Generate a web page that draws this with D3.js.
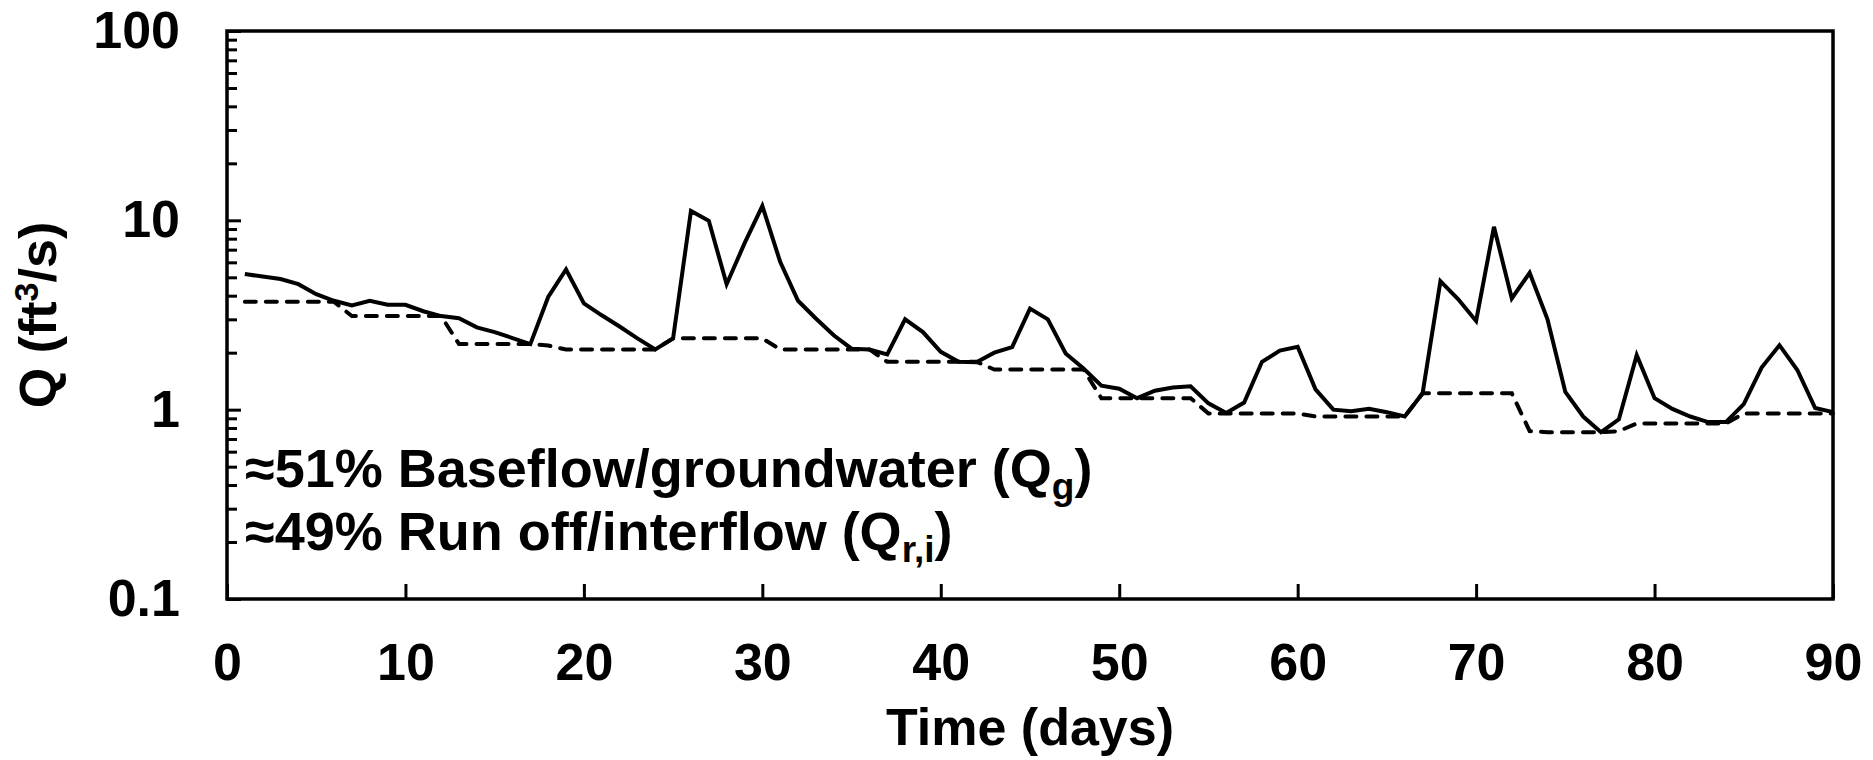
<!DOCTYPE html>
<html lang="en">
<head>
<meta charset="UTF-8">
<title>Q vs time</title>
<script src="https://d3js.org/d3.v7.min.js"></script>
<style>
  body { margin: 0; background: #fff; }
  text { font-family: "Liberation Sans", Arial, Helvetica, sans-serif; font-weight: bold; fill: #000; }
  .tick line { stroke: #000; stroke-width: 3px; }
  .tick text { font-size: 52px; }
</style>
</head>
<body>
<svg id="chart" width="1873" height="760"></svg>
<script>

// days 1..90
var days = d3.range(1, 91);

// total discharge Q (ft3/s)
var totalFlow = [5.2, 5.05, 4.9, 4.6, 4.07, 3.76, 3.55, 3.76, 3.58, 3.58,
  3.31, 3.12, 3.04, 2.72, 2.57, 2.39, 2.22, 3.94, 5.5, 3.64,
  3.15, 2.75, 2.38, 2.08, 2.38, 11.2, 9.94, 4.6, 7.55, 11.9,
  6.04, 3.76, 3.03, 2.47, 2.1, 2.08, 1.96, 3.0, 2.57, 2.02,
  1.79, 1.78, 2.0, 2.14, 3.42, 3.0, 1.98, 1.65, 1.34, 1.29,
  1.15, 1.26, 1.31, 1.33, 1.08, 0.96, 1.09, 1.79, 2.05, 2.15,
  1.28, 1.0, 0.98, 1.01, 0.97, 0.92, 1.22, 4.77, 3.83, 2.94,
  9.24, 3.87, 5.28, 3.0, 1.24, 0.92, 0.76, 0.89, 1.94, 1.15,
  1.01, 0.92, 0.86, 0.86, 1.07, 1.67, 2.19, 1.62, 1.02, 0.97];

// baseflow / groundwater (dashed), 6-day blocks
var baseFlow = [3.71, 3.71, 3.71, 3.71, 3.71, 3.71, 3.12, 3.12, 3.12, 3.12,
  3.12, 3.12, 2.22, 2.22, 2.22, 2.22, 2.22, 2.18, 2.08, 2.08,
  2.08, 2.08, 2.08, 2.08, 2.38, 2.38, 2.38, 2.38, 2.38, 2.38,
  2.08, 2.08, 2.08, 2.08, 2.08, 2.08, 1.79, 1.79, 1.79, 1.79,
  1.79, 1.79, 1.63, 1.63, 1.63, 1.63, 1.63, 1.63, 1.15, 1.15,
  1.15, 1.15, 1.15, 1.15, 0.955, 0.955, 0.955, 0.955, 0.955, 0.955,
  0.92, 0.92, 0.92, 0.92, 0.92, 0.92, 1.22, 1.22, 1.22, 1.22,
  1.22, 1.22, 0.77, 0.76, 0.76, 0.76, 0.76, 0.77, 0.845, 0.845,
  0.845, 0.845, 0.845, 0.845, 0.955, 0.955, 0.955, 0.955, 0.955, 0.955];

var xTicks = [0, 10, 20, 30, 40, 50, 60, 70, 80, 90];
var yTicks = [0.1, 1, 10, 100];
var yTickLabels = ["0.1", "1", "10", "100"];
var noteLines = [
  { pre: "\u224851% Baseflow/groundwater (Q", sub: "g", post: ")" },
  { pre: "\u224849% Run off/interflow (Q", sub: "r,i", post: ")" }
];

var svg = d3.select("#chart");
var plotL = 227, plotR = 1833, plotT = 31, plotB = 599;

var x = d3.scaleLinear().domain([0, 90]).range([plotL, plotR]);
var y = d3.scaleLog().domain([0.1, 100]).range([plotB, plotT]);

// minor log ticks 2..9 of each decade
var yMinor = [];
[0.1, 1, 10].forEach(function(d) {
  for (var k = 2; k <= 9; k++) yMinor.push(+(d * k).toPrecision(3));
});

// x axis
var gx = svg.append("g")
    .attr("transform", "translate(0," + plotB + ")")
    .call(d3.axisBottom(x).tickValues(xTicks).tickSizeInner(-15).tickSizeOuter(0).tickPadding(44)
      .tickFormat(d3.format("d")));
gx.select(".domain").remove();

// y axis minor
var gym = svg.append("g")
    .attr("transform", "translate(" + plotL + ",0)")
    .call(d3.axisLeft(y).tickValues(yMinor).tickSizeInner(-10).tickSizeOuter(0).tickFormat(""));
gym.select(".domain").remove();

// y axis major
var gy = svg.append("g")
    .attr("transform", "translate(" + plotL + ",0)")
    .call(d3.axisLeft(y).tickValues(yTicks).tickSizeInner(-14).tickSizeOuter(0).tickPadding(47)
      .tickFormat(function(d, i) { return yTickLabels[i]; }));
gy.select(".domain").remove();

// frame
svg.append("rect")
    .attr("x", plotL).attr("y", plotT)
    .attr("width", plotR - plotL).attr("height", plotB - plotT)
    .attr("fill", "none").attr("stroke", "#000").attr("stroke-width", 3.5);

var line = d3.line()
    .x(function(d) { return x(d[0]); })
    .y(function(d) { return y(d[1]); });

svg.append("path")
    .datum(days.map(function(d, i) { return [d, baseFlow[i]]; }))
    .attr("d", line)
    .attr("fill", "none").attr("stroke", "#000").attr("stroke-width", 4)
    .attr("stroke-dasharray", "11,10").attr("stroke-linecap", "round");

svg.append("path")
    .datum(days.map(function(d, i) { return [d, totalFlow[i]]; }))
    .attr("d", line)
    .attr("fill", "none").attr("stroke", "#000").attr("stroke-width", 4)
    .attr("stroke-linejoin", "miter");

// annotations
noteLines.forEach(function(n, i) {
  var t = svg.append("text")
      .attr("x", 245).attr("y", 487 + i * 63)
      .style("font-size", "54px");
  t.append("tspan").text(n.pre);
  t.append("tspan").attr("dy", 12).style("font-size", "37px").text(n.sub);
  t.append("tspan").attr("dy", -12).text(n.post);
});

// axis titles
svg.append("text")
    .attr("x", (plotL + plotR) / 2).attr("y", 745)
    .attr("text-anchor", "middle")
    .style("font-size", "52px")
    .text("Time (days)");

var yt = svg.append("text")
    .attr("transform", "translate(56," + (plotT + plotB) / 2 + ") rotate(-90)")
    .attr("text-anchor", "middle")
    .style("font-size", "52px");
yt.append("tspan").text("Q (ft");
yt.append("tspan").attr("dy", -18).style("font-size", "34px").text("3");
yt.append("tspan").attr("dy", 18).text("/s)");

</script>
</body>
</html>
